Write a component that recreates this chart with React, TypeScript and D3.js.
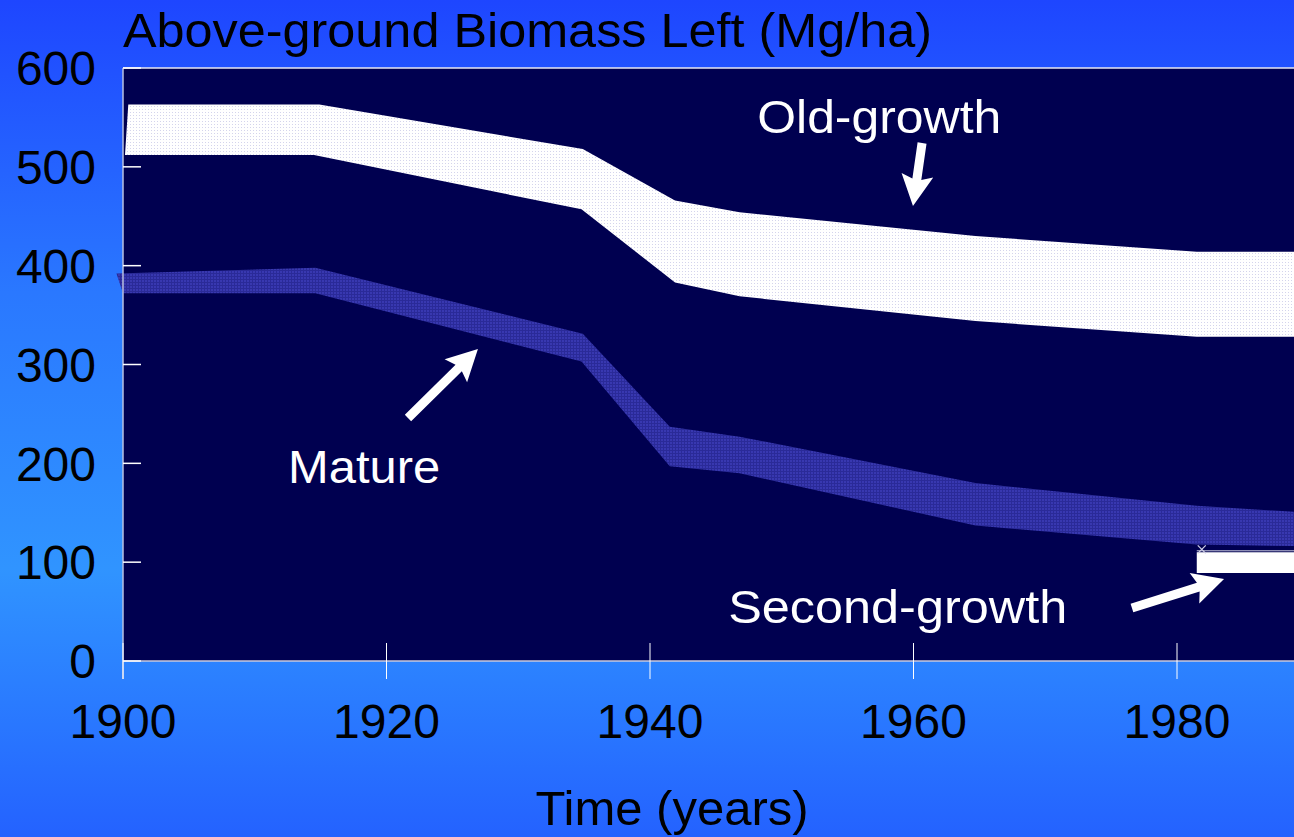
import React from "react";
import * as d3 from "d3";

const W = 1294;
const H = 837;

// ---- data ----
const xTicks = [1900, 1920, 1940, 1960, 1980];
const yTicks = [0, 100, 200, 300, 400, 500, 600];

const oldUpperYears = [1900.4, 1914.9, 1934.9, 1941.9, 1946.8, 1964.7, 1981.5, 1990];
const oldUpperVals = [563, 563, 518, 466, 454, 430, 414, 414];
const oldLowerYears = [1900.15, 1914.5, 1934.8, 1941.9, 1946.8, 1964.7, 1981.5, 1990];
const oldLowerVals = [512, 512, 457, 383, 369, 344, 328, 328];

const matUpperYears = [1899.5, 1914.6, 1934.9, 1941.5, 1946.8, 1964.7, 1981.5, 1990];
const matUpperVals = [392, 398, 331, 237, 227, 180, 157, 150];
const matLowerYears = [1900.0, 1914.6, 1934.8, 1941.5, 1946.8, 1964.7, 1981.5, 1990];
const matLowerVals = [372, 372, 303, 197, 190, 137, 118, 116];

const secYears = [1981.5, 1990];
const secUpperVals = [110, 110];
const secLowerVals = [89, 89];

const labels = [
  { text: "Old-growth", year: 1957.4, value: 534, len: 244 },
  { text: "Mature", year: 1918.3, value: 180, len: 152 },
  { text: "Second-growth", year: 1958.8, value: 38.4, len: 339 },
];

const arrows = [
  { x0: 1960.65, y0: 524.1, x1: 1959.96, y1: 460.4 },
  { x0: 1921.63, y0: 245.9, x1: 1926.94, y1: 315.7 },
  { x0: 1976.58, y0: 53.6, x1: 1983.57, y1: 83.0 },
];

export default function App() {
  const x = d3.scaleLinear().domain([1900, 1980]).range([123, 1177]);
  const y = d3.scaleLinear().domain([0, 600]).range([661, 68]);
  const plotLeft = x(1900);
  const plotTop = y(600);
  const plotBottom = y(0);

  const band = (uy: number[], uv: number[], ly: number[], lv: number[]) => {
    const pts: [number, number][] = [];
    uy.forEach((yr, i) => pts.push([x(yr), y(uv[i])]));
    for (let i = ly.length - 1; i >= 0; i--) pts.push([x(ly[i]), y(lv[i])]);
    return d3.line()(pts) + "Z";
  };

  const arrowPath = (a: { x0: number; y0: number; x1: number; y1: number }) => {
    const X0 = x(a.x0), Y0 = y(a.y0), X1 = x(a.x1), Y1 = y(a.y1);
    const dx = X1 - X0, dy = Y1 - Y0;
    const len = Math.hypot(dx, dy);
    const ux = dx / len, uy = dy / len;
    const px = -uy, py = ux;
    const sw = 4.5, hl = 31, hw = 16;
    const bx = X1 - ux * hl, by = Y1 - uy * hl;
    const pts: [number, number][] = [
      [X0 + px * sw, Y0 + py * sw],
      [bx + px * sw + ux * 4, by + py * sw + uy * 4],
      [bx + px * hw, by + py * hw],
      [X1, Y1],
      [bx - px * hw, by - py * hw],
      [bx - px * sw + ux * 4, by - py * sw + uy * 4],
      [X0 - px * sw, Y0 - py * sw],
    ];
    return d3.line()(pts) + "Z";
  };

  const font = "'Liberation Sans', Arial, Helvetica, sans-serif";

  return (
    <svg
      width={W}
      height={H}
      style={{ position: "absolute", left: 0, top: 0, display: "block" }}
      fontFamily={font}
    >
      <defs>
        <linearGradient id="bg" x1="0" y1="0" x2="0" y2="1">
          <stop offset="0" stopColor="#1e46ff" />
          <stop offset="0.35" stopColor="#2a78ff" />
          <stop offset="0.68" stopColor="#3094ff" />
          <stop offset="1" stopColor="#2462ff" />
        </linearGradient>
        <pattern id="oldPat" width="3" height="3" patternUnits="userSpaceOnUse">
          <rect width="3" height="3" fill="#ffffff" />
          <rect x="1" y="1" width="1" height="1" fill="#d4d4ec" />
        </pattern>
        <pattern id="matPat" width="3" height="3" patternUnits="userSpaceOnUse">
          <rect width="3" height="3" fill="#3838b0" />
          <rect x="0" y="0" width="3" height="1" fill="#2a2a98" />
          <rect x="0" y="0" width="1" height="3" fill="#2a2a98" />
        </pattern>
      </defs>

      <rect x={0} y={0} width={W} height={H} fill="url(#bg)" />

      {/* plot area */}
      <rect x={plotLeft} y={plotTop} width={W - plotLeft} height={plotBottom - plotTop} fill="#000050" />

      {/* bands */}
      <path d={band(oldUpperYears, oldUpperVals, oldLowerYears, oldLowerVals)} fill="url(#oldPat)" />
      <path d={band(matUpperYears, matUpperVals, matLowerYears, matLowerVals)} fill="url(#matPat)" />
      <path d={band(secYears, secUpperVals, secYears, secLowerVals)} fill="#ffffff" />
      <line x1={x(secYears[0])} x2={W} y1={y(secUpperVals[0]) - 1.5} y2={y(secUpperVals[0]) - 1.5} stroke="#c8c8e0" strokeWidth={1} />
      <g stroke="#d0d0e8" strokeWidth={1.2}>
        <line x1={x(secYears[0]) + 1} y1={y(113) - 4} x2={x(secYears[0]) + 9} y2={y(113) + 4} />
        <line x1={x(secYears[0]) + 1} y1={y(113) + 4} x2={x(secYears[0]) + 9} y2={y(113) - 4} />
      </g>

      {/* axes */}
      <line x1={plotLeft} x2={W} y1={plotTop} y2={plotTop} stroke="#e8e8f4" strokeWidth={1.5} />
      <line x1={plotLeft} x2={plotLeft} y1={plotTop} y2={plotBottom + 18} stroke="#b8c0e0" strokeWidth={1.5} />
      <line x1={plotLeft} x2={W} y1={plotBottom} y2={plotBottom} stroke="#c8c8dc" strokeWidth={1.5} />
      {yTicks.map((t) => (
        <line key={"yt" + t} x1={plotLeft} x2={plotLeft + 18} y1={y(t)} y2={y(t)} stroke="#ffffff" strokeWidth={1.5} />
      ))}
      {xTicks.map((t) => (
        <line key={"xt" + t} x1={x(t)} x2={x(t)} y1={plotBottom - 18} y2={plotBottom + 18} stroke="#ffffff" strokeWidth={1} />
      ))}
      {yTicks.map((t) => (
        <text key={"yl" + t} x={96} y={y(t)} dy="0.36em" textAnchor="end" fontSize={48} fill="#000">
          {t}
        </text>
      ))}
      {xTicks.map((t) => (
        <text key={"xl" + t} x={x(t)} y={738} textAnchor="middle" fontSize={48} fill="#000">
          {t}
        </text>
      ))}

      {/* titles */}
      <text x={123} y={47} fontSize={48} fill="#000" textLength={809} lengthAdjust="spacingAndGlyphs">
        Above-ground Biomass Left (Mg/ha)
      </text>
      <text x={672} y={825} textAnchor="middle" fontSize={48} fill="#000" textLength={273} lengthAdjust="spacingAndGlyphs">
        Time (years)
      </text>

      {/* annotations */}
      {labels.map((l) => (
        <text
          key={l.text}
          x={x(l.year)}
          y={y(l.value)}
          textAnchor="middle"
          fontSize={47}
          fill="#ffffff"
          textLength={l.len}
          lengthAdjust="spacingAndGlyphs"
        >
          {l.text}
        </text>
      ))}
      {arrows.map((a, i) => (
        <path key={"ar" + i} d={arrowPath(a)} fill="#ffffff" />
      ))}
    </svg>
  );
}
